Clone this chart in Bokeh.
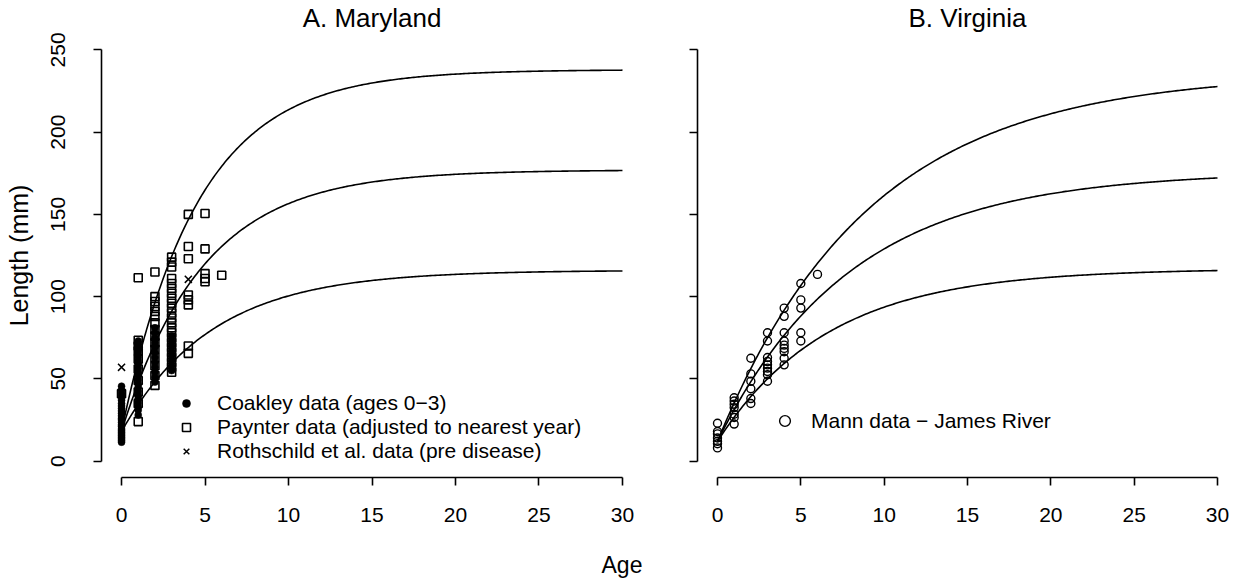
import numpy as np
from bokeh.plotting import figure
from bokeh.layouts import column, row
from bokeh.models import Legend, LegendItem, Div, FixedTicker
from bokeh.embed import file_html
from bokeh.resources import INLINE

# ---------------- data ----------------
x_ticks = [0, 5, 10, 15, 20, 25, 30]
y_ticks = [0, 50, 100, 150, 200, 250]

# A. Maryland - Coakley data (ages 0-3), lengths by age
coakley_age0 = [11.5, 12.5, 13.5, 14.5, 15.5, 16.5, 17.5, 18.5, 19.5, 21, 22, 23.5, 25, 26,
                27.5, 29, 30.5, 32, 33.5, 35, 37, 39, 41, 43, 45.5]
coakley_age1 = [28, 31, 33, 35.5, 38, 40, 42.5, 45, 47, 49.5, 52, 54, 56.5, 59, 61, 63.5, 66,
                68, 70.5, 73]
coakley_age2 = [48, 51, 54, 57, 60, 63, 66, 69, 72, 75, 78, 81]
coakley_age3 = [55, 58, 61, 64, 67, 70, 73, 76]

# Paynter data (adjusted to nearest year)
paynter_age0 = [41]
paynter_age1 = [24, 35, 42, 49, 56, 62, 67, 70, 73.5, 111.5]
paynter_age2 = [46, 52, 58, 63, 68, 72, 76, 80, 84, 88, 91, 94, 97, 100, 115]
paynter_age3 = [54, 57, 60, 63, 66, 69, 72, 75, 78, 81, 84, 87, 90, 93, 96, 99, 102, 105,
                108, 111, 118, 121, 124]
paynter_age4 = [65.5, 70, 95, 98, 101, 123, 130.5, 150]
paynter_age5 = [109, 111, 114, 129, 150.5]
paynter_age6 = [113]

# Rothschild et al. data (pre disease)
rothschild_age = [0, 4]
rothschild_len = [57, 110.5]

# B. Virginia - Mann data, James River
mann_age0 = [8, 10.5, 12, 14, 16.5, 18, 23]
mann_age1 = [22.5, 26.5, 28.5, 32.5, 34.5, 36.5, 38.5]
mann_age2 = [35, 38, 44, 48.5, 53, 62.5]
mann_age3 = [48.5, 52.5, 54.5, 56.5, 58.5, 60.5, 63, 73, 78]
mann_age4 = [58.5, 62.5, 66.5, 68.5, 70.5, 73, 78, 88, 93]
mann_age5 = [73, 78, 93, 98, 108]
mann_age6 = [113.5]

# von Bertalanffy growth curves (Linf, K, t0)
md_linf = [238, 177, 116]
md_k = [0.22, 0.205, 0.184]
md_t0 = [-0.36, -0.525, -0.915]

va_linf = [236, 176, 117]
va_k = [0.11, 0.125, 0.15]
va_t0 = [-0.475, -0.565, -0.72]

# ---------------- helpers ----------------
FONT = "Liberation Sans"
FS_TICK = "21px"
FS_LEG = "21px"
FS_TITLE = "26px"
FS_YLAB = "25px"
FS_XLAB = "23px"


def by_age(groups):
    xs, ys = [], []
    for age, vals in groups:
        xs += [age] * len(vals)
        ys += list(vals)
    return xs, ys


def vb(linf, k, t0, t):
    return linf * (1 - np.exp(-k * (t - t0)))


def make_fig(title, width, bl, br):
    p = figure(width=width, height=540, x_range=(-1.2, 31.2), y_range=(-10, 260),
               output_backend="svg", toolbar_location=None,
               min_border_left=bl, min_border_right=br,
               min_border_top=32, min_border_bottom=63)
    p.title.text = title
    p.title.align = "center"
    p.title.text_font = FONT
    p.title.text_font_size = FS_TITLE
    p.title.text_font_style = "normal"
    p.title.text_color = "black"
    p.title.standoff = 1
    p.outline_line_color = None
    p.xgrid.visible = False
    p.ygrid.visible = False
    p.background_fill_color = "white"
    p.border_fill_color = "white"
    for ax in (p.xaxis[0], p.yaxis[0]):
        ax.axis_line_color = "black"
        ax.axis_line_width = 1.6
        ax.major_tick_line_color = "black"
        ax.major_tick_line_width = 1.6
        ax.major_tick_out = 8
        ax.major_tick_in = 0
        ax.minor_tick_line_color = None
        ax.major_label_text_font = FONT
        ax.major_label_text_font_size = FS_TICK
        ax.major_label_text_color = "black"
        ax.axis_label_text_font = FONT
        ax.axis_label_text_font_style = "normal"
        ax.axis_label_text_color = "black"
    p.xaxis.ticker = FixedTicker(ticks=x_ticks)
    p.xaxis.bounds = (0, 30)
    p.xaxis.major_label_standoff = 22
    p.yaxis.ticker = FixedTicker(ticks=y_ticks)
    p.yaxis.bounds = (0, 250)
    p.yaxis.major_label_orientation = "vertical"
    p.yaxis.major_label_standoff = 28
    return p


t = np.linspace(0, 30, 301)

# ---------------- panel A ----------------
p1 = make_fig("A. Maryland", 642, 101, 0)
p1.yaxis.axis_label = "Length (mm)"
p1.yaxis.axis_label_text_font_size = FS_YLAB
p1.yaxis.axis_label_standoff = 16

for L, K, T0 in zip(md_linf, md_k, md_t0):
    p1.line(t, vb(L, K, T0, t), line_color="black", line_width=1.6)

cx, cy = by_age([(0, coakley_age0), (1, coakley_age1), (2, coakley_age2), (3, coakley_age3)])
px, py = by_age([(0, paynter_age0), (1, paynter_age1), (2, paynter_age2), (3, paynter_age3),
                 (4, paynter_age4), (5, paynter_age5), (6, paynter_age6)])

r_c = p1.scatter(cx, cy, marker="circle", size=7, fill_color="black", line_color="black",
                 line_width=0.5)
r_p = p1.scatter(px, py, marker="square", size=8, fill_alpha=0, line_color="black",
                 line_width=1.6)
r_r = p1.scatter(rothschild_age, rothschild_len, marker="x", size=10, line_color="black",
                 line_width=1.5)

leg1 = Legend(items=[LegendItem(label="Coakley data (ages 0\u22123)", renderers=[r_c]),
                     LegendItem(label="Paynter data (adjusted to nearest year)", renderers=[r_p]),
                     LegendItem(label="Rothschild et al. data (pre disease)", renderers=[r_r])],
              location=(75, 14), padding=0, margin=0, spacing=0,
              glyph_width=20, glyph_height=20, label_height=20, label_standoff=21,
              border_line_color=None, background_fill_alpha=0,
              label_text_font=FONT, label_text_font_size=FS_LEG, label_text_color="black")
p1.add_layout(leg1)

# ---------------- panel B ----------------
p2 = make_fig("B. Virginia", 602, 55, 7)
p2.yaxis.major_label_overrides = {v: "" for v in y_ticks}

for L, K, T0 in zip(va_linf, va_k, va_t0):
    p2.line(t, vb(L, K, T0, t), line_color="black", line_width=1.6)

mx, my = by_age([(0, mann_age0), (1, mann_age1), (2, mann_age2), (3, mann_age3),
                 (4, mann_age4), (5, mann_age5), (6, mann_age6)])
r_m = p2.scatter(mx, my, marker="circle", size=8, fill_alpha=0, line_color="black",
                 line_width=1.4)

leg2 = Legend(items=[LegendItem(label="Mann data \u2212 James River", renderers=[r_m])],
              location=(74, 43), padding=0, margin=0, spacing=0,
              glyph_width=27, glyph_height=27, label_height=20, label_standoff=13,
              border_line_color=None, background_fill_alpha=0,
              label_text_font=FONT, label_text_font_size=FS_LEG, label_text_color="black")
p2.add_layout(leg2)

age_div = Div(text="Age", width=1244, height=45, margin=(0, 0, 0, 0),
              styles={"font-family": FONT, "font-size": FS_XLAB, "text-align": "center",
                      "width": "1244px", "padding-top": "13px", "line-height": "24px",
                      "color": "black"})

layout = column(row(p1, p2, spacing=0), age_div, spacing=0)

open("out.html", "w").write(file_html(layout, INLINE))
